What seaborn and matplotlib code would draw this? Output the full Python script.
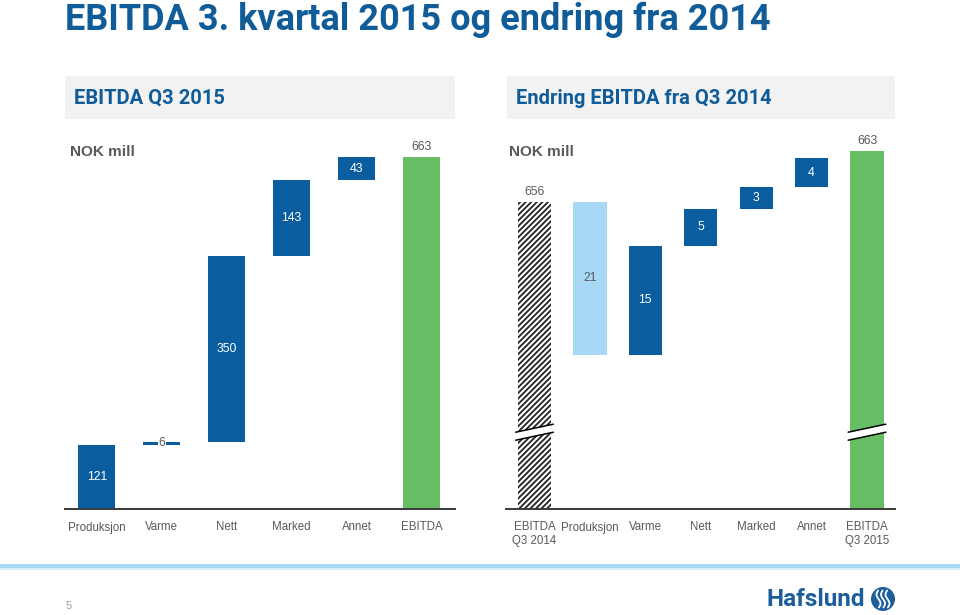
import matplotlib
matplotlib.use("Agg")
import matplotlib.pyplot as plt
import seaborn as sns
import numpy as np
from matplotlib.patches import Rectangle, Polygon, Ellipse
from matplotlib import font_manager

# ---------------- data ----------------
left_cats = ["Produksjon", "Varme", "Nett", "Marked", "Annet", "EBITDA"]
left_vals = [121, 6, 350, 143, 43, 663]

right_cats = ["EBITDA\nQ3 2014", "Produksjon", "Varme", "Nett", "Marked", "Annet", "EBITDA\nQ3 2015"]
right_vals = [656, -21, 15, 5, 3, 4, 663]

title = "EBITDA 3. kvartal 2015 og endring fra 2014"
left_header = "EBITDA Q3 2015"
right_header = "Endring EBITDA fra Q3 2014"
unit_label = "NOK mill"

# ---------------- style ----------------
sns.set_theme(style="white")
names = {f.name for f in font_manager.fontManager.ttflist}
narrow = "Liberation Sans Narrow" if "Liberation Sans Narrow" in names else "Roboto"
plt.rcParams["font.family"] = ["Liberation Sans", "DejaVu Sans"]
plt.rcParams["hatch.linewidth"] = 1.3

DARK = "#0A5E9F"
LIGHT = "#A7D9F7"
GREEN = "#66BD63"
GREY = "#595959"
TITLE = "#0F5C98"

fig = plt.figure(figsize=(9.6, 6.15), dpi=100)
W, H = 960, 615

def fx(px):
    return px / W

def fy(py):
    return 1 - py / H

# Title
fig.text(fx(65), fy(30), title, fontsize=26, color=TITLE, fontweight="bold",
         family=[narrow, "DejaVu Sans"], va="baseline", ha="left")

# Header boxes
for x0, x1, txt in [(65, 455, left_header), (507, 895, right_header)]:
    fig.patches.append(Rectangle((fx(x0), fy(119)), fx(x1 - x0), (119 - 76) / H,
                                 transform=fig.transFigure, facecolor="#F2F2F2",
                                 edgecolor="none", zorder=0))
    fig.text(fx(x0 + 9), fy(98), txt, fontsize=14.5, color=TITLE, fontweight="bold",
             family=[narrow, "DejaVu Sans"], va="center", ha="left")

# ---------------- helpers ----------------
def waterfall(vals, total_idx):
    bottoms, heights = [], []
    run = 0.0
    for i, v in enumerate(vals):
        if i in total_idx:
            bottoms.append(0.0)
            heights.append(v)
            run = v
        else:
            if v >= 0:
                bottoms.append(run)
                heights.append(v)
            else:
                bottoms.append(run + v)
                heights.append(-v)
            run += v
    return np.array(bottoms), np.array(heights)

def style_ax(ax):
    for s in ["top", "right", "left"]:
        ax.spines[s].set_visible(False)
    ax.spines["bottom"].set_color("#3A3A3A")
    ax.spines["bottom"].set_linewidth(1.4)
    ax.set_yticks([])
    ax.set_xlabel("")
    ax.set_ylabel("")
    ax.tick_params(axis="x", length=0, pad=9, labelsize=8.3, colors=GREY)
    ax.patch.set_alpha(0)

LBL = 8.8

# ---------------- left panel ----------------
axL = fig.add_axes([fx(65), fy(509), fx(390), 379 / H])
lb, lh = waterfall(left_vals, {5})
sns.barplot(x=left_cats, y=lh, order=left_cats, bottom=lb, width=0.57,
            color=DARK, saturation=1, errorbar=None, ax=axL, linewidth=0)
lcolors = [DARK] * 5 + [GREEN]
for p, c in zip(axL.patches, lcolors):
    p.set_facecolor(c)
    p.set_edgecolor("none")
axL.set_ylim(0, 714.5)
axL.set_xlim(-0.493, 5.516)
style_ax(axL)

for i, (b, h, v) in enumerate(zip(lb, lh, left_vals)):
    if i == 5:
        axL.annotate(f"{v}", (i, b + h), xytext=(0, 3), textcoords="offset points",
                     ha="center", va="bottom", fontsize=LBL, color=GREY)
    elif i == 1:
        axL.text(i, b + h / 2, f"{v}", ha="center", va="center", fontsize=LBL, color=GREY,
                 bbox=dict(facecolor="white", edgecolor="none", pad=0.6))
    else:
        axL.text(i, b + h / 2, f"{v}", ha="center", va="center", fontsize=LBL, color="white")

axL.text(0.013, 0.942, unit_label, transform=axL.transAxes, fontsize=11,
         fontweight="bold", color=GREY, ha="left", va="center")

# ---------------- right panel ----------------
axR = fig.add_axes([fx(506), fy(509), fx(389), 379 / H])
rb, rh = waterfall(right_vals, {0, 6})
sns.barplot(x=right_cats, y=rh, order=right_cats, bottom=rb, width=0.6,
            color=DARK, saturation=1, errorbar=None, ax=axR, linewidth=0)
rcolors = ["white", LIGHT, DARK, DARK, DARK, DARK, GREEN]
for k, (p, c) in enumerate(zip(axR.patches, rcolors)):
    p.set_facecolor(c)
    p.set_edgecolor("none")
    if k == 0:
        p.set_hatch("//////")
        p.set_edgecolor("#222222")
        p.set_linewidth(0)
y0, y1 = 613.86, 665.88
axR.set_ylim(y0, y1)
axR.set_xlim(-0.514, 6.505)
style_ax(axR)

for i, (b, h, v) in enumerate(zip(rb, rh, right_vals)):
    if i in (0, 6):
        axR.annotate(f"{v}", (i, b + h), xytext=(0, 3), textcoords="offset points",
                     ha="center", va="bottom", fontsize=LBL, color=GREY)
    elif v < 0:
        axR.text(i, b + h / 2, f"{abs(v)}", ha="center", va="center", fontsize=LBL, color=GREY)
    else:
        axR.text(i, b + h / 2, f"{v}", ha="center", va="center", fontsize=LBL, color="white")

# axis-break marks on the total bars
brk = 624.4
for i in (0, 6):
    hw = 0.34
    dy = 0.55
    th = 0.55
    xs = [i - hw, i + hw, i + hw, i - hw]
    ys = [brk - dy - th, brk + dy - th, brk + dy + th, brk - dy + th]
    axR.add_patch(Polygon(list(zip(xs, ys)), closed=True, facecolor="white",
                          edgecolor="none", zorder=5))
    axR.plot([i - hw, i + hw], [brk - dy - th, brk + dy - th], color="black", lw=1.1, zorder=6)
    axR.plot([i - hw, i + hw], [brk - dy + th, brk + dy + th], color="black", lw=1.1, zorder=6)

axR.text(0.008, 0.942, unit_label, transform=axR.transAxes, fontsize=11,
         fontweight="bold", color=GREY, ha="left", va="center")

# ---------------- footer ----------------
fig.patches.append(Rectangle((0, fy(567.5)), 1, 4 / H, transform=fig.transFigure,
                             facecolor="#A8D8F5", edgecolor="none"))
fig.patches.append(Rectangle((0, fy(569.5)), 1, 1.5 / H, transform=fig.transFigure,
                             facecolor="#D8EEFB", edgecolor="none"))
fig.text(fx(66), fy(606), "5", fontsize=8, color="#9A9A9A", ha="left", va="center")
fig.text(fx(767), fy(600), "Hafslund", fontsize=17.5, color="#1B5E9B", fontweight="bold",
         family=[narrow, "DejaVu Sans"], ha="left", va="center")
cx, cy, r = 883, 599, 12
fig.patches.append(Ellipse((fx(cx), fy(cy)), 2 * r / W, 2 * r / H, transform=fig.transFigure,
                           facecolor="#1B5E9B", edgecolor="none"))
for dxp in (-4.5, 0, 4.5):
    t = np.linspace(-0.85, 0.85, 20)
    xs = fx(cx + dxp + 2.0 * np.sin(t * 3.5))
    ys = fy(cy + t * 10)
    fig.lines.append(plt.Line2D(xs, ys, transform=fig.transFigure, color="white", lw=1.3))

fig.savefig("out.png", dpi=100)
